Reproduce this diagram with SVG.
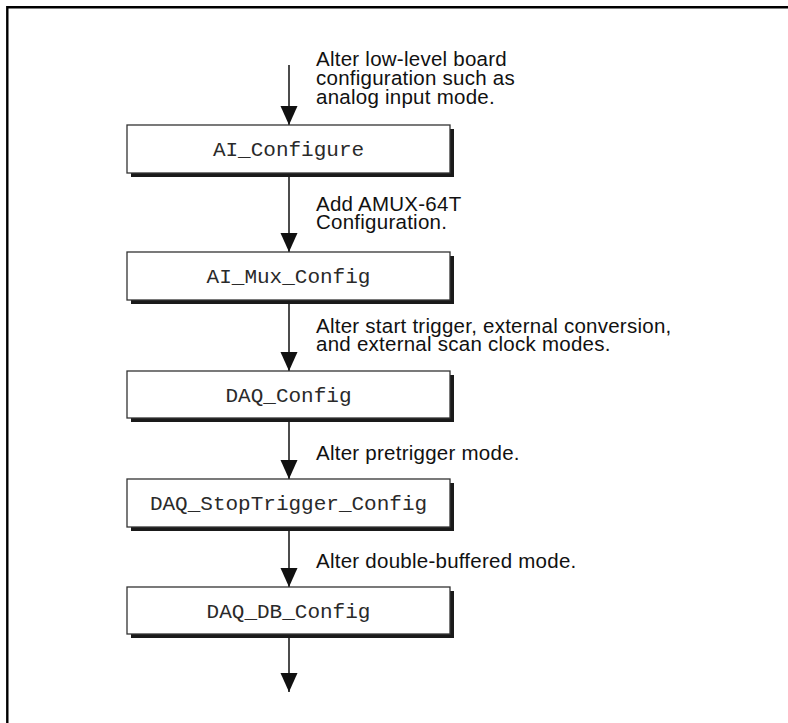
<svg xmlns="http://www.w3.org/2000/svg" width="788" height="723" viewBox="0 0 788 723">
<defs>
<style>
.frame{stroke:#000;stroke-width:2.4;fill:none}
.shadow{fill:#1a1a1a}
.box{fill:#fff;stroke:#333;stroke-width:1.3}
.fn{font-family:"Liberation Mono","Courier New",monospace;font-size:21px;fill:#2a2a2a;text-anchor:middle}
.lbl{font-family:"Liberation Sans",Arial,Helvetica,sans-serif;font-size:20.5px;letter-spacing:0.25px;fill:#111}
.conn{stroke:#111;stroke-width:1.5;fill:none;marker-end:url(#ah)}
</style>
<marker id="ah" markerUnits="userSpaceOnUse" markerWidth="20" markerHeight="18" viewBox="0 0 20 18" refX="19" refY="8.5" orient="auto">
<path d="M0,0 L19,8.5 L0,17 z" fill="#111"/>
</marker>
</defs>
<rect width="788" height="723" fill="#fff"/>
<path class="frame" d="M7.3,723 V7.3 H788"/>
<g id="connectors">
<line class="conn" x1="289" y1="65" x2="289" y2="125"/>
<line class="conn" x1="289" y1="177" x2="289" y2="252"/>
<line class="conn" x1="289" y1="304" x2="289" y2="371"/>
<line class="conn" x1="289" y1="422" x2="289" y2="479"/>
<line class="conn" x1="289" y1="531" x2="289" y2="587"/>
<line class="conn" x1="289" y1="638" x2="289" y2="692"/>
</g>
<g id="label1">
<text class="lbl" x="316" y="66">Alter low-level board<tspan x="316" dy="19">configuration such as</tspan><tspan x="316" dy="19">analog input mode.</tspan></text>
</g>
<g id="label2">
<text class="lbl" x="316" y="211">Add AMUX-64T<tspan x="316" dy="18">Configuration.</tspan></text>
</g>
<g id="label3">
<text class="lbl" x="316" y="333">Alter start trigger, external conversion,<tspan x="316" dy="18">and external scan clock modes.</tspan></text>
</g>
<g id="label4">
<text class="lbl" x="316" y="460">Alter pretrigger mode.</text>
</g>
<g id="label5">
<text class="lbl" x="316" y="568">Alter double-buffered mode.</text>
</g>
<g id="AI_Configure">
<rect class="shadow" x="131" y="129" width="323" height="48"/>
<rect class="box" x="127" y="125" width="323" height="48"/>
<text class="fn" x="288.5" y="156">AI_Configure</text>
</g>
<g id="AI_Mux_Config">
<rect class="shadow" x="131" y="256" width="323" height="48"/>
<rect class="box" x="127" y="252" width="323" height="48"/>
<text class="fn" x="288.5" y="283">AI_Mux_Config</text>
</g>
<g id="DAQ_Config">
<rect class="shadow" x="131" y="375" width="323" height="47"/>
<rect class="box" x="127" y="371" width="323" height="47"/>
<text class="fn" x="288.5" y="402">DAQ_Config</text>
</g>
<g id="DAQ_StopTrigger_Config">
<rect class="shadow" x="131" y="483" width="323" height="48"/>
<rect class="box" x="127" y="479" width="323" height="48"/>
<text class="fn" x="288.5" y="510">DAQ_StopTrigger_Config</text>
</g>
<g id="DAQ_DB_Config">
<rect class="shadow" x="131" y="591" width="323" height="47"/>
<rect class="box" x="127" y="587" width="323" height="47"/>
<text class="fn" x="288.5" y="618">DAQ_DB_Config</text>
</g>
</svg>
